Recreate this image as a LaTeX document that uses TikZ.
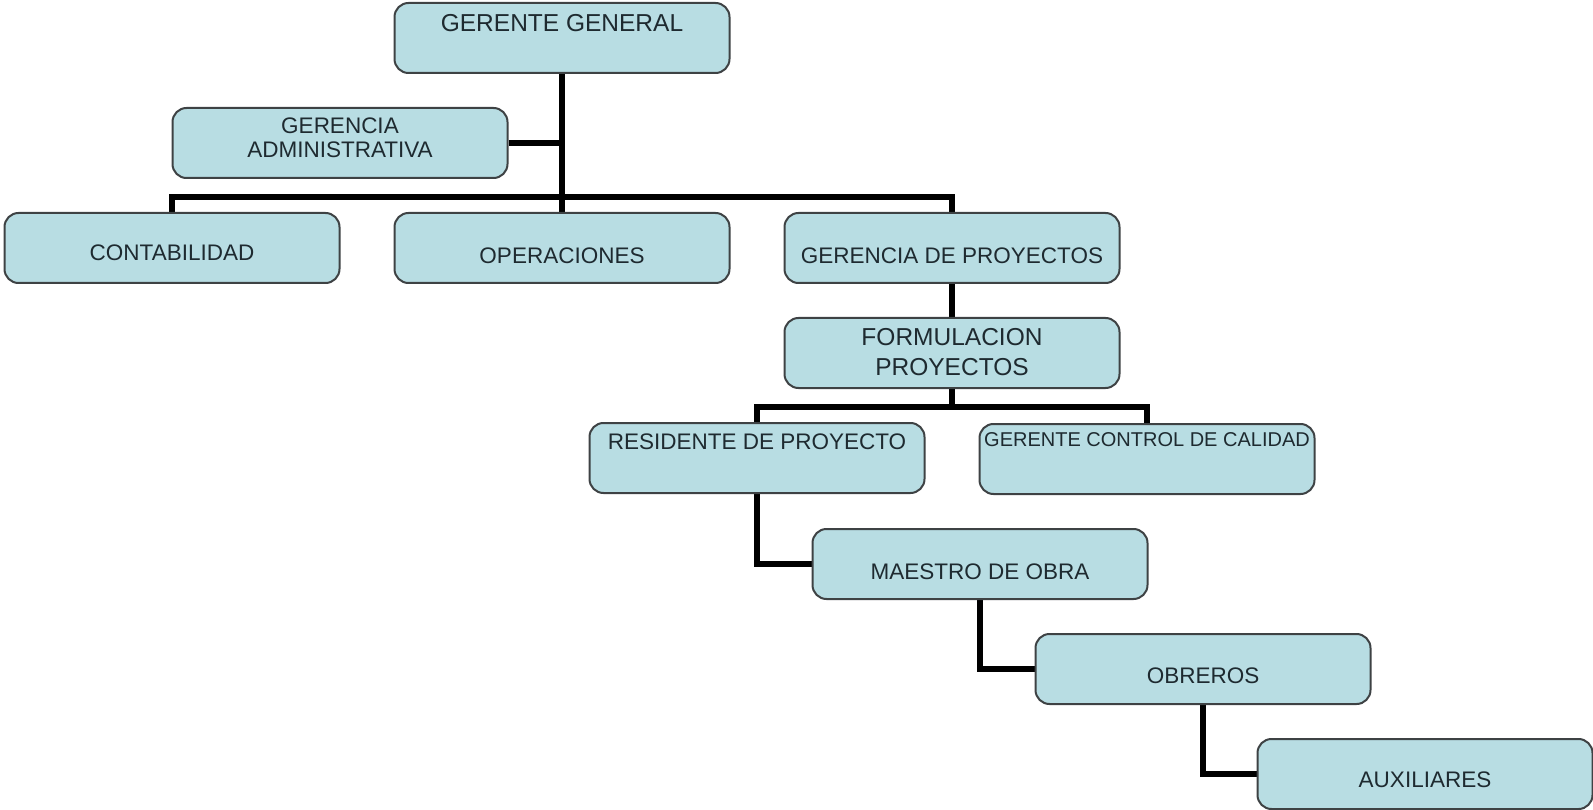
\documentclass[tikz,border=0pt]{standalone}
\usepackage{fontspec}
\setmainfont{Liberation Sans}
\usetikzlibrary{backgrounds}
\definecolor{boxfill}{RGB}{184,221,227}
\definecolor{boxline}{RGB}{62,66,68}
\definecolor{txt}{RGB}{30,42,48}
\tikzset{
  orgbox/.style={draw=boxline, line width=2pt, fill=boxfill, rounded corners=14pt,
    minimum width=335pt, minimum height=70pt, inner sep=0pt},
  lbl/.style={text=txt, inner sep=0pt, align=center, font=\fontsize{22.5}{24}\selectfont},
  biglbl/.style={lbl, font=\fontsize{24.5}{30}\selectfont},
  smalllbl/.style={lbl, font=\fontsize{20}{24}\selectfont},
  conn/.style={line width=5.5pt, black}
}
\begin{document}
\begin{tikzpicture}[x=1pt,y=-1pt]
\useasboundingbox (0,0) rectangle (1593,810);
\node[orgbox] (gg) at (562,38) {};
\node[orgbox] (ga) at (340,143) {};
\node[orgbox] (cont) at (172,248) {};
\node[orgbox] (ops) at (562,248) {};
\node[orgbox] (gp) at (952,248) {};
\node[orgbox] (fp) at (952,353) {};
\node[orgbox] (res) at (757,458) {};
\node[orgbox] (gcc) at (1147,459) {};
\node[orgbox] (mo) at (980,564) {};
\node[orgbox] (ob) at (1203,669) {};
\node[orgbox] (aux) at (1425,774) {};

\coordinate (b1) at (562,197);
\coordinate (b2) at (952,407);

\begin{scope}[on background layer]
\draw[conn] (gg.south) -- (ops.north);
\draw[conn] (ga.east) -- (ga.east -| gg.south);
\draw[conn] (cont.north) |- (b1) -| (gp.north);
\draw[conn] (gp.south) -- (fp.north);
\draw[conn] (fp.south) -- (b2);
\draw[conn] (res.north) |- (b2) -| (gcc.north);
\draw[conn] (res.south) |- (mo.west);
\draw[conn] (mo.south) |- (ob.west);
\draw[conn] (ob.south) |- (aux.west);
\end{scope}

\node[biglbl] (tgg) at (562,23) {GERENTE GENERAL};
\node[lbl] (tga) at (340,138) {GERENCIA\\ADMINISTRATIVA};
\node[lbl] (tcont) at (172,253) {CONTABILIDAD};
\node[lbl] (tops) at (562,256) {OPERACIONES};
\node[lbl] (tgp) at (952,256) {GERENCIA DE PROYECTOS};
\node[biglbl] (tfp) at (952,352) {FORMULACION\\PROYECTOS};
\node[lbl] (tres) at (757,442) {RESIDENTE DE PROYECTO};
\node[smalllbl] (tgcc) at (1147,440) {GERENTE CONTROL DE CALIDAD};
\node[lbl] (tmo) at (980,572) {MAESTRO DE OBRA};
\node[lbl] (tob) at (1203,676) {OBREROS};
\node[lbl] (taux) at (1425,780) {AUXILIARES};
\end{tikzpicture}
\end{document}
